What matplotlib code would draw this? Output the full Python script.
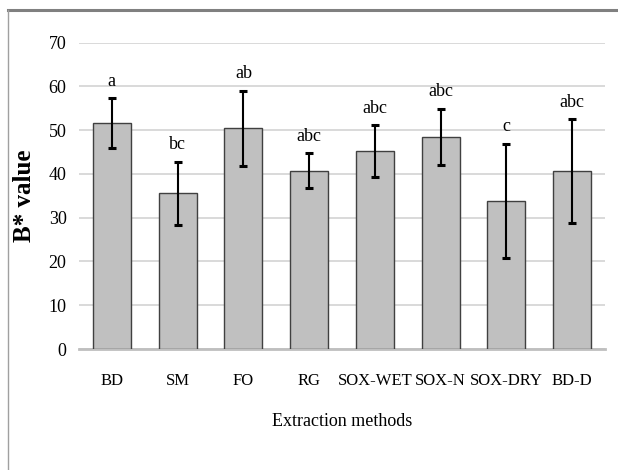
import matplotlib
matplotlib.use("Agg")
import matplotlib.pyplot as plt
from matplotlib.lines import Line2D

methods = ["BD", "SM", "FO", "RG", "SOX-WET", "SOX-N", "SOX-DRY", "BD-D"]
b_value = [51.6, 35.6, 50.4, 40.7, 45.2, 48.4, 33.9, 40.7]
sd = [5.7, 7.2, 8.6, 4.0, 5.9, 6.4, 13.0, 11.8]
letters = ["a", "bc", "ab", "abc", "abc", "abc", "c", "abc"]

plt.rcParams['font.family'] = ['Liberation Serif', 'DejaVu Serif']

fig = plt.figure(figsize=[6.18, 4.70], dpi=100)
fig.patch.set_facecolor('white')
ax = fig.add_axes([79 / 618, 121 / 470, 526 / 618, 306.3 / 470])

x = range(len(methods))
ax.bar(x, b_value, width=0.58,
       color='#c0c0c0', edgecolor='#404040', linewidth=1.0, zorder=2)
ax.errorbar(x, b_value, yerr=sd, fmt='none',
            ecolor='black', elinewidth=1.5,
            capsize=2.6, capthick=2.2, zorder=3)

for i, lab in enumerate(letters):
    ax.text(i, b_value[i] + sd[i] + 2.0, lab,
            ha='center', va='bottom', fontsize=13)

ax.set_ylim(0, 70)
ax.set_xlim(-0.5, len(methods) - 0.5)
ax.set_yticks(range(0, 71, 10))
ax.set_xticks(list(x))
ax.set_xticklabels(methods)

ax.yaxis.grid(True, color='#d9d9d9', linewidth=1.4, zorder=0)
ax.set_axisbelow(True)
for s in ['top', 'right', 'left']:
    ax.spines[s].set_visible(False)
ax.spines['bottom'].set_color('#bfbfbf')
ax.spines['bottom'].set_linewidth(2.0)
ax.spines['bottom'].set_zorder(1)

ax.tick_params(axis='y', length=0, pad=9, labelsize=13)
ax.tick_params(axis='x', length=0, pad=17, labelsize=12)

ax.set_ylabel("B* value", fontsize=18, fontweight='bold')
ax.yaxis.set_label_coords(-0.082, 0.5)
fig.text(342 / 618, 1 - 421 / 470, "Extraction methods",
         ha='center', va='center', fontsize=13)

# outer frame like the pasted Excel chart
fig.add_artist(Line2D([8 / 618, 1.0], [1 - 10 / 470, 1 - 10 / 470],
                      transform=fig.transFigure, color='#808080', lw=2.2))
fig.add_artist(Line2D([8 / 618, 8 / 618], [0.0, 1 - 10 / 470],
                      transform=fig.transFigure, color='#a0a0a0', lw=1.0))

fig.savefig("out.png", dpi=100)
